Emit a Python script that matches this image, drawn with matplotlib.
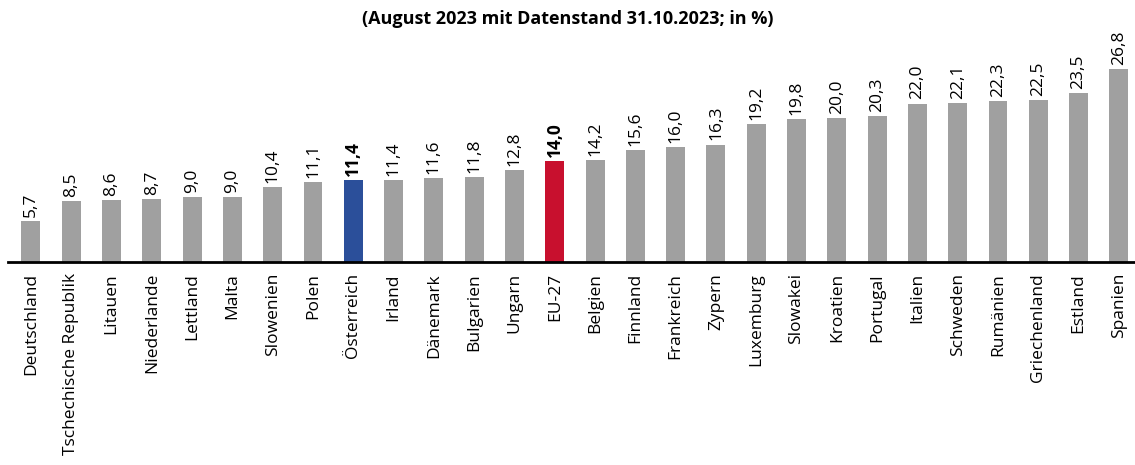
import matplotlib
matplotlib.use("Agg")
import matplotlib.pyplot as plt

countries = ["Deutschland", "Tschechische Republik", "Litauen", "Niederlande", "Lettland",
             "Malta", "Slowenien", "Polen", "Österreich", "Irland", "Dänemark", "Bulgarien",
             "Ungarn", "EU-27", "Belgien", "Finnland", "Frankreich", "Zypern", "Luxemburg",
             "Slowakei", "Kroatien", "Portugal", "Italien", "Schweden", "Rumänien",
             "Griechenland", "Estland", "Spanien"]
values = [5.7, 8.5, 8.6, 8.7, 9.0, 9.0, 10.4, 11.1, 11.4, 11.4, 11.6, 11.8, 12.8, 14.0,
          14.2, 15.6, 16.0, 16.3, 19.2, 19.8, 20.0, 20.3, 22.0, 22.1, 22.3, 22.5, 23.5, 26.8]
highlight = {"Österreich": "#2B4F9A", "EU-27": "#C8102E"}
title = "(August 2023 mit Datenstand 31.10.2023; in %)"

plt.rcParams['font.family'] = ['Open Sans', 'DejaVu Sans']

W, H = 1135, 465
fig = plt.figure(figsize=(W / 100, H / 100), dpi=100)
ax = fig.add_axes([8 / W, 203 / H, 1127 / W, 222 / H])

x = list(range(len(countries)))
colors = [highlight.get(c, "#A0A0A0") for c in countries]
ax.bar(x, values, width=0.47, color=colors, zorder=2)

for xi, v, c in zip(x, values, countries):
    ax.annotate(f"{v:.1f}".replace(".", ","), (xi, v), xytext=(0, 3),
                textcoords="offset points", rotation=90, ha="center", va="bottom",
                fontsize=12.5, fontweight="bold" if c in highlight else "normal")

ax.set_xlim(-0.57, 27.4)
ax.set_ylim(0, 30.83)
ax.set_xticks(x)
ax.set_xticklabels(countries, rotation=90, fontsize=12.5)
ax.tick_params(axis="x", length=0, pad=8)
ax.set_yticks([])
for s in ["top", "right", "left"]:
    ax.spines[s].set_visible(False)
ax.spines["bottom"].set_linewidth(2)
ax.spines["bottom"].set_color("black")

fig.text(0.5, 1 - 19 / H, title, ha="center", va="center", fontsize=13, fontweight="bold")

fig.savefig("out.png", dpi=100)
